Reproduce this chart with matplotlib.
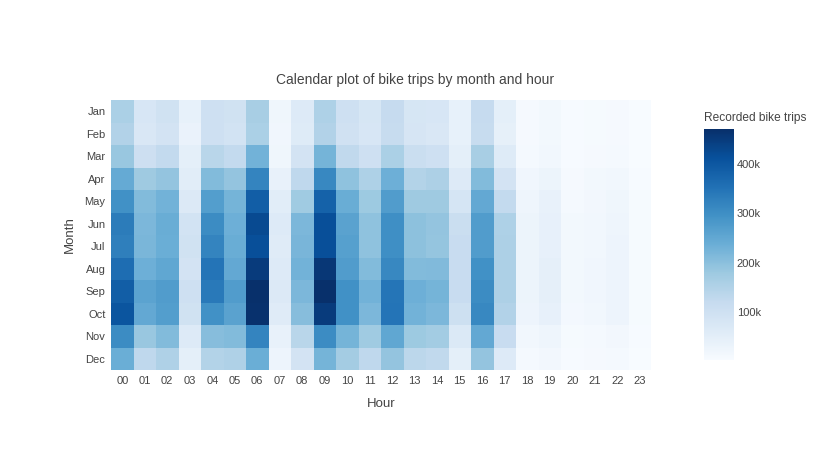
import numpy as np
import matplotlib
matplotlib.use('Agg')
import matplotlib.pyplot as plt
from matplotlib.ticker import FuncFormatter

plt.rcParams['font.family'] = ['Liberation Sans', 'DejaVu Sans']

# axis categories
months = ['Jan', 'Feb', 'Mar', 'Apr', 'May', 'Jun', 'Jul', 'Aug', 'Sep', 'Oct', 'Nov', 'Dec']
hours = ['%02d' % h for h in range(24)]

# trips per hour column (Jan..Dec)
h00 = [160e3, 150e3, 185e3, 245e3, 297e3, 335e3, 330e3, 360e3, 387e3, 405e3, 305e3, 237e3]
h01 = [78e3, 75e3, 105e3, 178e3, 210e3, 218e3, 220e3, 235e3, 260e3, 248e3, 185e3, 130e3]
h02 = [95e3, 90e3, 125e3, 190e3, 228e3, 240e3, 238e3, 252e3, 275e3, 270e3, 210e3, 153e3]
h03 = [40e3, 35e3, 48e3, 55e3, 68e3, 92e3, 95e3, 90e3, 100e3, 95e3, 65e3, 48e3]
h04 = [100e3, 100e3, 140e3, 210e3, 270e3, 305e3, 320e3, 348e3, 340e3, 297e3, 205e3, 148e3]
h05 = [95e3, 92e3, 125e3, 190e3, 225e3, 235e3, 240e3, 248e3, 275e3, 262e3, 210e3, 153e3]
h06 = [165e3, 160e3, 228e3, 320e3, 387e3, 425e3, 415e3, 450e3, 471e3, 468e3, 320e3, 237e3]
h07 = [22e3, 20e3, 22e3, 38e3, 55e3, 65e3, 61e3, 65e3, 68e3, 61e3, 38e3, 28e3]
h08 = [65e3, 62e3, 90e3, 130e3, 175e3, 218e3, 222e3, 228e3, 218e3, 205e3, 140e3, 90e3]
h09 = [155e3, 150e3, 225e3, 312e3, 380e3, 415e3, 415e3, 458e3, 471e3, 450e3, 305e3, 225e3]
h10 = [100e3, 98e3, 128e3, 195e3, 240e3, 262e3, 268e3, 275e3, 297e3, 297e3, 225e3, 170e3]
h11 = [80e3, 78e3, 100e3, 155e3, 180e3, 195e3, 195e3, 210e3, 228e3, 218e3, 175e3, 130e3]
h12 = [120e3, 118e3, 160e3, 235e3, 275e3, 300e3, 300e3, 312e3, 345e3, 348e3, 252e3, 190e3]
h13 = [80e3, 82e3, 110e3, 148e3, 178e3, 198e3, 198e3, 210e3, 235e3, 228e3, 180e3, 135e3]
h14 = [78e3, 75e3, 100e3, 158e3, 178e3, 190e3, 188e3, 212e3, 225e3, 218e3, 172e3, 128e3]
h15 = [40e3, 40e3, 48e3, 65e3, 85e3, 110e3, 115e3, 115e3, 115e3, 102e3, 70e3, 48e3]
h16 = [120e3, 118e3, 165e3, 210e3, 248e3, 275e3, 275e3, 297e3, 305e3, 312e3, 248e3, 190e3]
h17 = [48e3, 45e3, 62e3, 90e3, 125e3, 155e3, 158e3, 158e3, 158e3, 150e3, 115e3, 65e3]
h18 = [10e3, 10e3, 12e3, 20e3, 25e3, 30e3, 30e3, 30e3, 30e3, 28e3, 18e3, 12e3]
h19 = [14e3, 14e3, 18e3, 30e3, 38e3, 42e3, 42e3, 46e3, 46e3, 42e3, 25e3, 16e3]
h20 = [5e3, 5e3, 6e3, 10e3, 12e3, 14e3, 14e3, 14e3, 14e3, 13e3, 8e3, 6e3]
h21 = [8e3, 8e3, 10e3, 14e3, 17e3, 18e3, 18e3, 20e3, 20e3, 19e3, 12e3, 9e3]
h22 = [10e3, 10e3, 12e3, 18e3, 22e3, 26e3, 27e3, 28e3, 28e3, 27e3, 16e3, 12e3]
h23 = [3e3, 3e3, 4e3, 6e3, 7e3, 8e3, 8e3, 8e3, 8e3, 8e3, 5e3, 4e3]

trips = np.array([h00, h01, h02, h03, h04, h05, h06, h07, h08, h09, h10, h11,
                  h12, h13, h14, h15, h16, h17, h18, h19, h20, h21, h22, h23]).T

txt = '#444444'
fig = plt.figure(figsize=(8.3, 4.5), dpi=100)
ax = fig.add_axes([111 / 830, 80 / 450, 540 / 830, 270 / 450])
cax = fig.add_axes([704 / 830, 90 / 450, 30 / 830, 231 / 450])

mesh = ax.pcolormesh(trips, cmap='Blues', vmin=trips.min(), vmax=trips.max())
ax.set_xlim(0, 24)
ax.set_ylim(12, 0)
ax.set_xticks(np.arange(24) + 0.5)
ax.set_xticklabels(hours)
ax.set_yticks(np.arange(12) + 0.5)
ax.set_yticklabels(months)
ax.tick_params(length=0, labelsize=8, colors=txt, pad=4)
for s in ax.spines.values():
    s.set_visible(False)
ax.set_xlabel('Hour', fontsize=9.5, color=txt, labelpad=9)
ax.set_ylabel('Month', fontsize=9.5, color=txt, labelpad=6)
fig.text(415 / 830, 1 - 80 / 450, 'Calendar plot of bike trips by month and hour',
         ha='center', va='center', fontsize=10, color=txt)

cb = fig.colorbar(mesh, cax=cax)
cb.outline.set_visible(False)
cb.set_ticks([100e3, 200e3, 300e3, 400e3])
cb.ax.yaxis.set_major_formatter(FuncFormatter(lambda v, p: '%dk' % round(v / 1000)))
cb.ax.tick_params(length=0, labelsize=8, colors=txt, pad=2)
fig.text(704 / 830, 1 - 118 / 450, 'Recorded bike trips', ha='left', va='center',
         fontsize=8.6, color=txt)

fig.savefig('out.png', dpi=100, facecolor='white')
